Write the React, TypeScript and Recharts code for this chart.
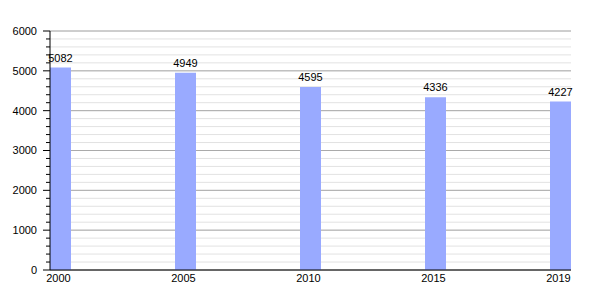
import { Bar, BarChart, CartesianGrid, LabelList, XAxis, YAxis } from "recharts";

const years = ["2000", "2005", "2010", "2015", "2019"];
const population = [5082, 4949, 4595, 4336, 4227];
const majorTicks = [0, 1000, 2000, 3000, 4000, 5000, 6000];
const minorTicks = Array.from({ length: 31 }, (_, i) => i * 200);

const data = years.map((year, idx) => ({ idx, year, value: population[idx] }));

const FONT = "'Liberation Sans', Arial, sans-serif";
const TICK_SIZE = 7;
const TICK_MARGIN = 6;

function YTick(props: any) {
  const { x, y, payload } = props;
  const axisX = x + TICK_SIZE + TICK_MARGIN;
  const isMajor = payload.value % 1000 === 0;
  return (
    <g>
      <line
        x1={axisX - (isMajor ? TICK_SIZE : 4)}
        x2={axisX}
        y1={y}
        y2={y}
        stroke="#000"
        strokeWidth={1}
      />
      {isMajor && (
        <text x={x} y={y} dy="0.355em" textAnchor="end" fill="#000" fontSize={11} fontFamily={FONT}>
          {payload.value}
        </text>
      )}
    </g>
  );
}

export default function App() {
  return (
    <BarChart
      width={584}
      height={284}
      data={data}
      margin={{ top: 23, right: 21, left: 0, bottom: 0 }}
    >
      <CartesianGrid horizontalValues={minorTicks} vertical={false} stroke="#e2e2e2" />
      <CartesianGrid horizontalValues={majorTicks} vertical={false} stroke="#aaaaaa" />
      <XAxis
        type="number"
        dataKey="idx"
        domain={[0, years.length - 1]}
        ticks={years.map((_, i) => i)}
        tickFormatter={(i: number) => years[i]}
        padding={{ left: 10.5, right: 10.5 }}
        axisLine={{ stroke: "#000" }}
        tickLine={false}
        tickSize={0}
        tickMargin={4}
        height={22}
        tick={{ fill: "#000", fontSize: 11, fontFamily: FONT, dx: -2 }}
      />
      <YAxis
        domain={[0, 6000]}
        ticks={minorTicks}
        interval={0}
        width={42}
        axisLine={{ stroke: "#000" }}
        tickLine={false}
        tickSize={TICK_SIZE}
        tickMargin={TICK_MARGIN}
        tick={<YTick />}
      />
      <Bar dataKey="value" fill="#99aaff" barSize={21} isAnimationActive={false}>
        <LabelList
          dataKey="value"
          position="top"
          offset={6}
          fill="#000"
          fontSize={11}
          fontFamily={FONT}
        />
      </Bar>
    </BarChart>
  );
}
